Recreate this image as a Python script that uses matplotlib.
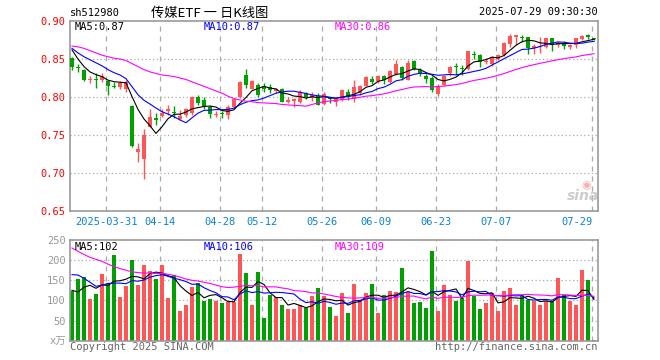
import numpy as np
import matplotlib
matplotlib.use("Agg")
import matplotlib.pyplot as plt

# header / footer text
code = "sh512980"
title = "传媒ETF 一 日K线图"
stamp = "2025-07-29 09:30:30"

# trading-day index of each labelled date (index 0 = 2025-03-21)
date_ticks = [6, 15, 25, 32, 42, 51, 61, 71, 87]
date_labels = ["2025-03-31", "04-14", "04-28", "05-12", "05-26",
               "06-09", "06-23", "07-07", "07-29"]

opens = [0.851, 0.839, 0.836, 0.822, 0.824, 0.822, 0.821, 0.814, 0.813, 0.810,
         0.788, 0.728, 0.719, 0.761, 0.772, 0.775, 0.781, 0.780, 0.771, 0.776,
         0.779, 0.800, 0.796, 0.787, 0.776, 0.778, 0.776, 0.787, 0.800, 0.829,
         0.811, 0.816, 0.815, 0.813, 0.808, 0.811, 0.794, 0.795, 0.794, 0.805,
         0.799, 0.801, 0.791, 0.798, 0.794, 0.796, 0.807, 0.798, 0.805, 0.8145,
         0.824, 0.821, 0.828, 0.820, 0.830, 0.839, 0.823, 0.847, 0.836, 0.828,
         0.825, 0.804, 0.816, 0.832, 0.840, 0.838, 0.837, 0.857, 0.855, 0.846,
         0.844, 0.850, 0.855, 0.870, 0.879, 0.878, 0.879, 0.8645, 0.866, 0.866,
         0.877, 0.869, 0.871, 0.866, 0.869, 0.876, 0.881, 0.878]
highs = [0.853, 0.844, 0.837, 0.827, 0.831, 0.832, 0.822, 0.820, 0.821, 0.822,
         0.789, 0.739, 0.758, 0.784, 0.779, 0.784, 0.789, 0.788, 0.783, 0.786,
         0.801, 0.803, 0.800, 0.790, 0.781, 0.781, 0.790, 0.798, 0.821, 0.837,
         0.823, 0.818, 0.819, 0.817, 0.812, 0.812, 0.800, 0.799, 0.809, 0.807,
         0.807, 0.805, 0.806, 0.800, 0.799, 0.810, 0.810, 0.823, 0.816, 0.827,
         0.827, 0.829, 0.829, 0.836, 0.849, 0.841, 0.849, 0.849, 0.838, 0.830,
         0.827, 0.817, 0.829, 0.841, 0.845, 0.842, 0.860, 0.861, 0.856, 0.851,
         0.854, 0.857, 0.872, 0.883, 0.882, 0.882, 0.879, 0.870, 0.879, 0.878,
         0.878, 0.874, 0.874, 0.870, 0.878, 0.881, 0.883, 0.878]
lows = [0.836, 0.8325, 0.821, 0.819, 0.812, 0.820, 0.802, 0.812, 0.811, 0.807,
        0.734, 0.715, 0.692, 0.760, 0.763, 0.774, 0.776, 0.772, 0.770, 0.774,
        0.776, 0.789, 0.784, 0.772, 0.774, 0.772, 0.771, 0.786, 0.799, 0.812,
        0.810, 0.800, 0.806, 0.805, 0.805, 0.793, 0.792, 0.787, 0.792, 0.797,
        0.795, 0.789, 0.789, 0.792, 0.788, 0.795, 0.796, 0.793, 0.803, 0.814,
        0.817, 0.819, 0.817, 0.819, 0.829, 0.822, 0.822, 0.835, 0.827, 0.819,
        0.806, 0.801, 0.815, 0.827, 0.829, 0.829, 0.836, 0.850, 0.840, 0.843,
        0.841, 0.849, 0.854, 0.866, 0.869, 0.872, 0.857, 0.856, 0.858, 0.865,
        0.861, 0.866, 0.863, 0.863, 0.865, 0.875, 0.876, 0.875]
closes = [0.840, 0.838, 0.823, 0.823, 0.823, 0.827, 0.815, 0.813, 0.819, 0.820,
          0.7355, 0.731, 0.750, 0.774, 0.770, 0.779, 0.784, 0.779, 0.775, 0.784,
          0.800, 0.792, 0.787, 0.777, 0.778, 0.777, 0.787, 0.797, 0.820, 0.816,
          0.821, 0.802, 0.811, 0.809, 0.810, 0.794, 0.796, 0.797, 0.806, 0.800,
          0.803, 0.790, 0.804, 0.797, 0.798, 0.809, 0.800, 0.813, 0.815, 0.8265,
          0.820, 0.828, 0.823, 0.834, 0.844, 0.825, 0.845, 0.837, 0.830, 0.824,
          0.809, 0.815, 0.828, 0.840, 0.839, 0.837, 0.860, 0.855, 0.846, 0.848,
          0.853, 0.855, 0.871, 0.880, 0.881, 0.877, 0.864, 0.8675, 0.867, 0.877,
          0.869, 0.871, 0.867, 0.868, 0.877, 0.880, 0.879, 0.876]
volumes = [122.5, 152.5, 158, 102.5, 115, 165, 144, 212.5, 107.5, 135,
           200, 137.5, 187.5, 172.5, 154, 187.5, 105, 164, 72.5, 87.5,
           132.5, 142.5, 97.5, 102.5, 97.5, 92.5, 96, 95, 215, 167.5,
           87.5, 170, 57.5, 112.5, 107.5, 87.5, 77.5, 77.5, 87.5, 80,
           110, 130, 110, 82.5, 62.5, 117.5, 70, 140, 97.5, 117.5,
           140, 70, 112.5, 122.5, 120, 180, 121, 92.5, 95, 80,
           222.5, 72.5, 137.5, 112.5, 97.5, 105, 197.5, 110, 77.5, 92.5,
           117.5, 72.5, 122.5, 130, 87.5, 112.5, 100, 97.5, 87.5, 97.5,
           97.5, 155, 112.5, 97.5, 87.5, 175, 150, 2.5]

# moving-average values before enough days are on screen
ma5_head = [0.862, 0.850, 0.840, 0.833]
ma10_head = [0.864, 0.858, 0.853, 0.849, 0.845, 0.841, 0.836, 0.832, 0.829]
ma30_head = [0.867, 0.866, 0.864, 0.861, 0.858, 0.855, 0.853, 0.851, 0.850, 0.848,
             0.844, 0.840, 0.836, 0.833, 0.831, 0.829, 0.828, 0.827, 0.825, 0.823,
             0.820, 0.817, 0.814, 0.811, 0.808, 0.805, 0.801, 0.798, 0.796]
vma5_head = [125, 121, 133, 137.5]
vma10_head = [164, 163, 155, 145, 135, 138, 142, 143, 143]
vma30_head = [230, 222, 214, 207, 202, 197, 190, 184, 179, 175,
              171, 169, 168, 168, 167, 167, 165, 162, 158, 153,
              150, 148, 145, 142, 138, 134, 132, 133, 135]

price_labels = ["MA5:0.87", "MA10:0.87", "MA30:0.86"]
vol_labels = ["MA5:102", "MA10:106", "MA30:109"]

UP = "#ff5555"
DOWN = "#00a000"
GRID = "#aaaaaa"
MONO = "DejaVu Sans Mono"
W, H = 660, 360


def moving_avg(values, n, head):
    vals = np.array(values, dtype=float)
    out = list(head)
    for i in range(n - 1, len(vals)):
        out.append(vals[i - n + 1:i + 1].mean())
    return np.array(out)


def px(x, y):
    # pixel position -> figure fraction
    return x / W, 1 - y / H


def style_axes(ax):
    for s in ax.spines.values():
        s.set_color("#999999")
        s.set_linewidth(1.2)
    ax.set_xlim(-0.333, 87.667)
    grid_x = [t - 0.28 for t in date_ticks]
    for gx in grid_x:
        ax.axvline(gx, color=GRID, linewidth=0.9, linestyle=(0, (4, 4)), zorder=0)
    ax.tick_params(length=0)


def main():
    plt.rcParams['font.family'] = [MONO, 'Noto Sans CJK SC']
    fig = plt.figure(figsize=(6.6, 3.6), dpi=100)
    fig.patch.set_facecolor("white")

    x = np.arange(len(closes))
    o = np.array(opens)
    c = np.array(closes)
    up = c >= o
    colors = [UP if u else DOWN for u in up]

    # price panel
    ax = fig.add_axes([70 / W, 1 - 211 / H, 528 / W, 190 / H])
    style_axes(ax)
    ax.set_ylim(0.65, 0.90)
    for yv in [0.70, 0.75, 0.80, 0.85]:
        ax.axhline(yv, color=GRID, linewidth=0.9, linestyle=(0, (1, 2)), zorder=0)
    ax.vlines(x, lows, highs, colors=colors, linewidth=1.0, zorder=2)
    bottom = np.minimum(o, c)
    height = np.maximum(np.abs(c - o), 0.0013)
    ax.bar(x, height, bottom=bottom, width=0.8, color=colors, zorder=3)

    ax.plot(x, moving_avg(closes, 5, ma5_head), color="black", linewidth=0.8, zorder=4)
    ax.plot(x, moving_avg(closes, 10, ma10_head), color="#0000ff", linewidth=0.8, zorder=4)
    ax.plot(x, moving_avg(closes, 30, ma30_head), color="#ff00ff", linewidth=0.8, zorder=4)

    ax.set_yticks([0.65, 0.70, 0.75, 0.80, 0.85, 0.90])
    ax.set_yticklabels(["0.65", "0.70", "0.75", "0.80", "0.85", "0.90"],
                       color="#ff0000", fontsize=7.5)
    ax.set_xticks([t - 0.28 for t in date_ticks])
    ax.set_xticklabels(date_labels, color="#0a80dc", fontsize=7.5)
    ax.tick_params(axis="x", pad=4)
    ax.tick_params(axis="y", pad=3)
    ax.get_xticklabels()[-1].set_ha("right")

    for lbl, col, xpos in zip(price_labels, ["black", "#0000ff", "#ff00ff"], [75, 204, 335]):
        fig.text(*px(xpos, 22), lbl, color=col, fontsize=7.5, va="top", ha="left")

    # sina watermark
    fig.text(*px(583, 196), "sina", color="#c0c0c0", fontsize=10, fontweight="bold",
             style="italic", family="DejaVu Sans", ha="center", va="center", alpha=0.8)
    fig.text(*px(586, 185), "◉", color="#f6b0b0", fontsize=8, family="DejaVu Sans",
             ha="center", va="center")

    # volume panel
    av = fig.add_axes([70 / W, 1 - 340.7 / H, 528 / W, 100.7 / H])
    style_axes(av)
    av.set_ylim(0, 250)
    for yv in [50, 100, 150, 200]:
        av.axhline(yv, color=GRID, linewidth=0.9, linestyle=(0, (1, 2)), zorder=0)
    av.bar(x, volumes, width=0.8, color=colors, zorder=2)
    av.plot(x, moving_avg(volumes, 5, vma5_head), color="black", linewidth=0.8, zorder=4)
    av.plot(x, moving_avg(volumes, 10, vma10_head), color="#0000ff", linewidth=0.8, zorder=4)
    av.plot(x, moving_avg(volumes, 30, vma30_head), color="#ff00ff", linewidth=0.8, zorder=4)
    av.set_yticks([0, 50, 100, 150, 200, 250])
    av.set_yticklabels(["x万", "50", "100", "150", "200", "250"], color="#999999", fontsize=7.5)
    av.tick_params(axis="y", pad=3)
    av.set_xticks([t - 0.28 for t in date_ticks])
    av.set_xticklabels([])

    for lbl, col, xpos in zip(vol_labels, ["black", "#0000ff", "#ff00ff"], [75, 204, 335]):
        fig.text(*px(xpos, 241.5), lbl, color=col, fontsize=7.5, va="top", ha="left")

    # header
    fig.text(*px(70, 13), code, fontsize=7.5, va="center", ha="left")
    fig.text(*px(210, 13), title, fontsize=9.5, va="center", ha="center",
             family=["Noto Sans CJK SC", MONO])
    fig.text(*px(598, 12), stamp, fontsize=7.5, va="center", ha="right")

    # footer
    fig.text(*px(70, 347), "Copyright 2025 SINA.COM", color="#666666", fontsize=7.5,
             va="center", ha="left")
    fig.text(*px(598, 347), "http://finance.sina.com.cn", color="#666666", fontsize=7.5,
             va="center", ha="right")

    fig.savefig("out.png", dpi=100)


if __name__ == "__main__":
    main()
